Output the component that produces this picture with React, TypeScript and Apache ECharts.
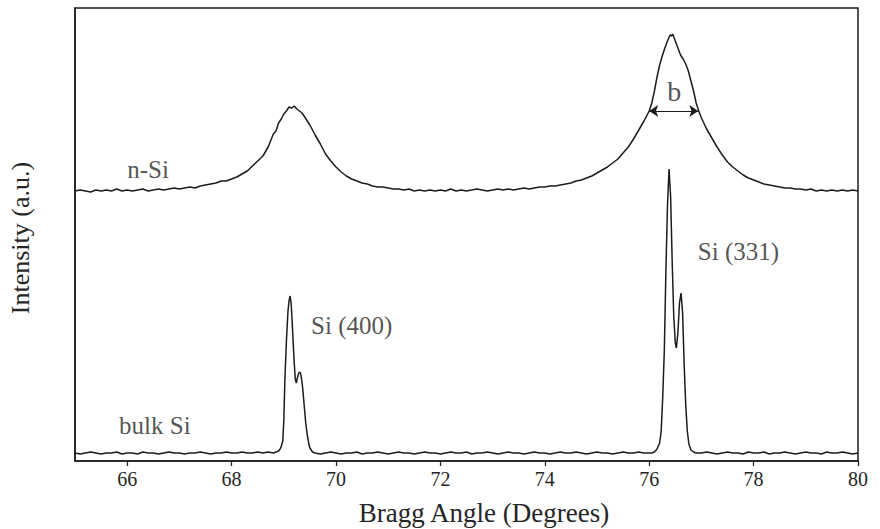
import React, { useEffect, useRef } from "react";
import * as echarts from "echarts";

// Bragg angle (degrees) / intensity (a.u., n-Si trace shown offset above bulk Si)
const nSiAngle = [
  65.0, 65.1, 65.2, 65.3, 65.4, 65.5, 65.6, 65.7, 65.8, 65.9,
  66.0, 66.1, 66.2, 66.3, 66.4, 66.5, 66.6, 66.7, 66.8, 66.9,
  67.0, 67.1, 67.2, 67.3, 67.4, 67.5, 67.6, 67.7, 67.8, 67.9,
  68.0, 68.1, 68.2, 68.3, 68.4, 68.5, 68.6, 68.7, 68.8, 68.85,
  68.9, 68.95, 69.0, 69.05, 69.1, 69.15, 69.2, 69.25, 69.3, 69.35,
  69.4, 69.5, 69.6, 69.7, 69.8, 69.9, 70.0, 70.1, 70.2, 70.3,
  70.4, 70.5, 70.6, 70.7, 70.8, 70.9, 71.0, 71.1, 71.2, 71.3,
  71.4, 71.5, 71.6, 71.7, 71.8, 71.9, 72.0, 72.1, 72.2, 72.3,
  72.4, 72.5, 72.6, 72.7, 72.8, 72.9, 73.0, 73.1, 73.2, 73.3,
  73.4, 73.5, 73.6, 73.7, 73.8, 73.9, 74.0, 74.1, 74.2, 74.3,
  74.4, 74.5, 74.6, 74.7, 74.8, 74.9, 75.0, 75.1, 75.2, 75.3,
  75.4, 75.5, 75.6, 75.7, 75.8, 75.9, 76.0, 76.05, 76.1, 76.15,
  76.2, 76.25, 76.3, 76.35, 76.4, 76.43, 76.45, 76.5, 76.55, 76.6,
  76.65, 76.7, 76.75, 76.8, 76.85, 76.9, 76.95, 77.0, 77.1, 77.2,
  77.3, 77.4, 77.5, 77.6, 77.7, 77.8, 77.9, 78.0, 78.1, 78.2,
  78.3, 78.4, 78.5, 78.6, 78.7, 78.8, 78.9, 79.0, 79.1, 79.2,
  79.3, 79.4, 79.5, 79.6, 79.7, 79.8, 79.9, 80.0,
];
const nSiIntensity = [
  270, 271, 270, 269, 271, 270, 271, 270, 272, 270,
  271, 270, 271, 272, 270, 271, 272, 271, 272, 273,
  272, 273, 274, 273, 275, 276, 277, 278, 280, 280,
  282, 284, 287, 290, 295, 300, 305, 314, 327, 330,
  338, 342, 347, 350, 354, 353, 355, 352, 350, 348,
  344, 336, 326, 317, 307, 300, 294, 289, 285, 282,
  280, 278, 277, 275, 274, 274, 273, 272, 272, 271,
  272, 270, 271, 270, 271, 270, 271, 270, 272, 270,
  271, 270, 271, 272, 271, 270, 271, 272, 271, 272,
  271, 272, 273, 272, 273, 274, 274, 275, 275, 276,
  277, 278, 280, 281, 283, 285, 288, 291, 294, 298,
  302, 308, 314, 322, 331, 340, 350, 358, 370, 384,
  396, 405, 413, 420, 426, 425, 427, 420, 413, 406,
  402, 397, 390, 380, 370, 358, 350, 343, 332, 323,
  314, 306, 299, 294, 290, 286, 283, 281, 279, 277,
  276, 275, 274, 273, 273, 272, 272, 271, 272, 270,
  271, 270, 271, 270, 271, 270, 271, 270,
];

const bulkAngle = [
  65.0, 65.1, 65.2, 65.3, 65.4, 65.5, 65.6, 65.7, 65.8, 65.9,
  66.0, 66.1, 66.2, 66.3, 66.4, 66.5, 66.6, 66.7, 66.8, 66.9,
  67.0, 67.1, 67.2, 67.3, 67.4, 67.5, 67.6, 67.7, 67.8, 67.9,
  68.0, 68.1, 68.2, 68.3, 68.4, 68.5, 68.6, 68.7, 68.8, 68.85,
  68.9, 68.93, 68.96, 68.98, 69.0, 69.02, 69.05, 69.08, 69.1, 69.12,
  69.14, 69.16, 69.18, 69.2, 69.22, 69.24, 69.26, 69.28, 69.3, 69.32,
  69.34, 69.36, 69.38, 69.4, 69.42, 69.45, 69.48, 69.5, 69.55, 69.6,
  69.7, 69.8, 69.9, 70.0, 70.1, 70.2, 70.3, 70.4, 70.5, 70.6,
  70.7, 70.8, 70.9, 71.0, 71.1, 71.2, 71.3, 71.4, 71.5, 71.6,
  71.7, 71.8, 71.9, 72.0, 72.1, 72.2, 72.3, 72.4, 72.5, 72.6,
  72.7, 72.8, 72.9, 73.0, 73.1, 73.2, 73.3, 73.4, 73.5, 73.6,
  73.7, 73.8, 73.9, 74.0, 74.1, 74.2, 74.3, 74.4, 74.5, 74.6,
  74.7, 74.8, 74.9, 75.0, 75.1, 75.2, 75.3, 75.4, 75.5, 75.6,
  75.7, 75.8, 75.9, 76.0, 76.05, 76.1, 76.15, 76.2, 76.23, 76.26,
  76.29, 76.32, 76.35, 76.38, 76.41, 76.44, 76.47, 76.5, 76.52, 76.55,
  76.58, 76.61, 76.64, 76.67, 76.7, 76.73, 76.76, 76.8, 76.85, 76.9,
  77.0, 77.1, 77.2, 77.3, 77.4, 77.5, 77.6, 77.7, 77.8, 77.9,
  78.0, 78.1, 78.2, 78.3, 78.4, 78.5, 78.6, 78.7, 78.8, 78.9,
  79.0, 79.1, 79.2, 79.3, 79.4, 79.5, 79.6, 79.7, 79.8, 79.9,
  80.0,
];
const bulkIntensity = [
  8, 7, 8, 9, 8, 7, 8, 8, 9, 7,
  8, 8, 7, 9, 8, 8, 7, 8, 9, 8,
  8, 7, 8, 8, 9, 8, 7, 8, 8, 9,
  8, 8, 9, 8, 8, 9, 8, 9, 8, 9,
  10, 12, 16, 20, 40, 80, 120, 150, 160, 165,
  158, 140, 118, 98, 82, 78, 83, 87, 89, 88,
  82, 74, 62, 50, 38, 26, 17, 13, 9, 8,
  7, 8, 9, 8, 7, 8, 8, 9, 7, 8,
  8, 9, 8, 7, 8, 9, 8, 8, 7, 8,
  9, 8, 8, 7, 8, 9, 8, 8, 9, 7,
  8, 8, 9, 8, 7, 8, 9, 8, 8, 7,
  8, 9, 8, 8, 7, 8, 9, 8, 8, 9,
  8, 7, 8, 9, 8, 8, 7, 8, 9, 8,
  8, 9, 8, 8, 8, 9, 12, 18, 30, 65,
  111, 190, 255, 292, 265, 200, 145, 118, 113, 128,
  158, 168, 148, 96, 56, 30, 17, 11, 9, 8,
  8, 9, 8, 7, 8, 9, 8, 8, 7, 9,
  8, 8, 9, 7, 8, 8, 9, 8, 7, 8,
  9, 8, 8, 7, 9, 8, 8, 9, 8, 7,
  8,
];

const xTicks = [66, 68, 70, 72, 74, 76, 78, 80];

// annotation labels (data coordinates)
const labelTexts = ["n-Si", "bulk Si", "Si (400)", "Si (331)"];
const labelAngle = [66.4, 66.53, 70.3, 77.71];
const labelIntensity = [292, 36, 136, 210];

// FWHM arrow "b" on the n-Si (331) peak
const fwhmStart = [76.0, 350];
const fwhmEnd = [76.94, 350];
const fwhmLabelPos = [76.48, 370];

const SERIF = "Liberation Serif";
const INK = "#1c1c1c";
const TEXT = "#262626";

export default function App() {
  const ref = useRef<HTMLDivElement>(null);

  useEffect(() => {
    document.body.style.margin = "0";
    if (!ref.current) return;
    const chart = echarts.init(ref.current, undefined, { renderer: "svg" });

    const nSiData = nSiAngle.map((a, i) => [a, nSiIntensity[i]]);
    const bulkData = bulkAngle.map((a, i) => [a, bulkIntensity[i]]);
    const labelData = labelTexts.map((t, i) => ({
      name: t,
      value: [labelAngle[i], labelIntensity[i]],
    }));

    chart.setOption({
      animation: false,
      backgroundColor: "#ffffff",
      grid: {
        left: 75,
        right: 22,
        top: 8,
        bottom: 68,
        show: true,
        borderColor: INK,
        borderWidth: 1.5,
        backgroundColor: "transparent",
      },
      xAxis: {
        type: "value",
        min: 65,
        max: 80,
        axisLine: { show: true, lineStyle: { color: INK, width: 1.5 } },
        axisTick: {
          show: true,
          inside: false,
          length: 5,
          customValues: xTicks,
          lineStyle: { color: INK, width: 1.2 },
        },
        axisLabel: {
          show: true,
          customValues: xTicks,
          margin: 8,
          fontFamily: SERIF,
          fontSize: 20,
          color: TEXT,
        },
        splitLine: { show: false },
      },
      yAxis: {
        type: "value",
        min: 0,
        max: 453,
        axisLine: { show: true, lineStyle: { color: INK, width: 1.5 } },
        axisTick: { show: false },
        axisLabel: { show: false },
        splitLine: { show: false },
      },
      graphic: [
        {
          type: "text",
          x: 484,
          y: 513,
          style: {
            text: "Bragg Angle (Degrees)",
            font: `27px ${SERIF}`,
            fill: TEXT,
            align: "center",
            verticalAlign: "middle",
          },
        },
        {
          type: "text",
          x: 20,
          y: 238,
          rotation: Math.PI / 2,
          style: {
            text: "Intensity (a.u.)",
            font: `26px ${SERIF}`,
            fill: TEXT,
            align: "center",
            verticalAlign: "middle",
          },
        },
      ],
      series: [
        {
          name: "n-Si",
          type: "line",
          data: nSiData,
          showSymbol: false,
          symbol: "none",
          lineStyle: { color: INK, width: 1.5 },
          silent: true,
          z: 3,
          markLine: {
            silent: true,
            symbol: ["arrow", "arrow"],
            symbolSize: 9,
            label: { show: false },
            lineStyle: { color: INK, width: 1.2, type: "solid" },
            data: [[{ coord: fwhmStart }, { coord: fwhmEnd }]],
          },
        },
        {
          name: "bulk Si",
          type: "line",
          data: bulkData,
          showSymbol: false,
          symbol: "none",
          lineStyle: { color: INK, width: 1.5 },
          silent: true,
          z: 3,
        },
        {
          name: "labels",
          type: "scatter",
          data: labelData,
          symbolSize: 0,
          silent: true,
          label: {
            show: true,
            position: "inside",
            formatter: "{b}",
            fontFamily: SERIF,
            fontSize: 25,
            color: TEXT,
          },
          z: 4,
        },
        {
          name: "b",
          type: "scatter",
          data: [{ name: "b", value: fwhmLabelPos }],
          symbolSize: 0,
          silent: true,
          label: {
            show: true,
            position: "inside",
            formatter: "{b}",
            fontFamily: SERIF,
            fontSize: 28,
            color: TEXT,
          },
          z: 4,
        },
      ],
    });

    return () => {
      chart.dispose();
    };
  }, []);

  return <div ref={ref} style={{ width: 880, height: 529 }} />;
}
